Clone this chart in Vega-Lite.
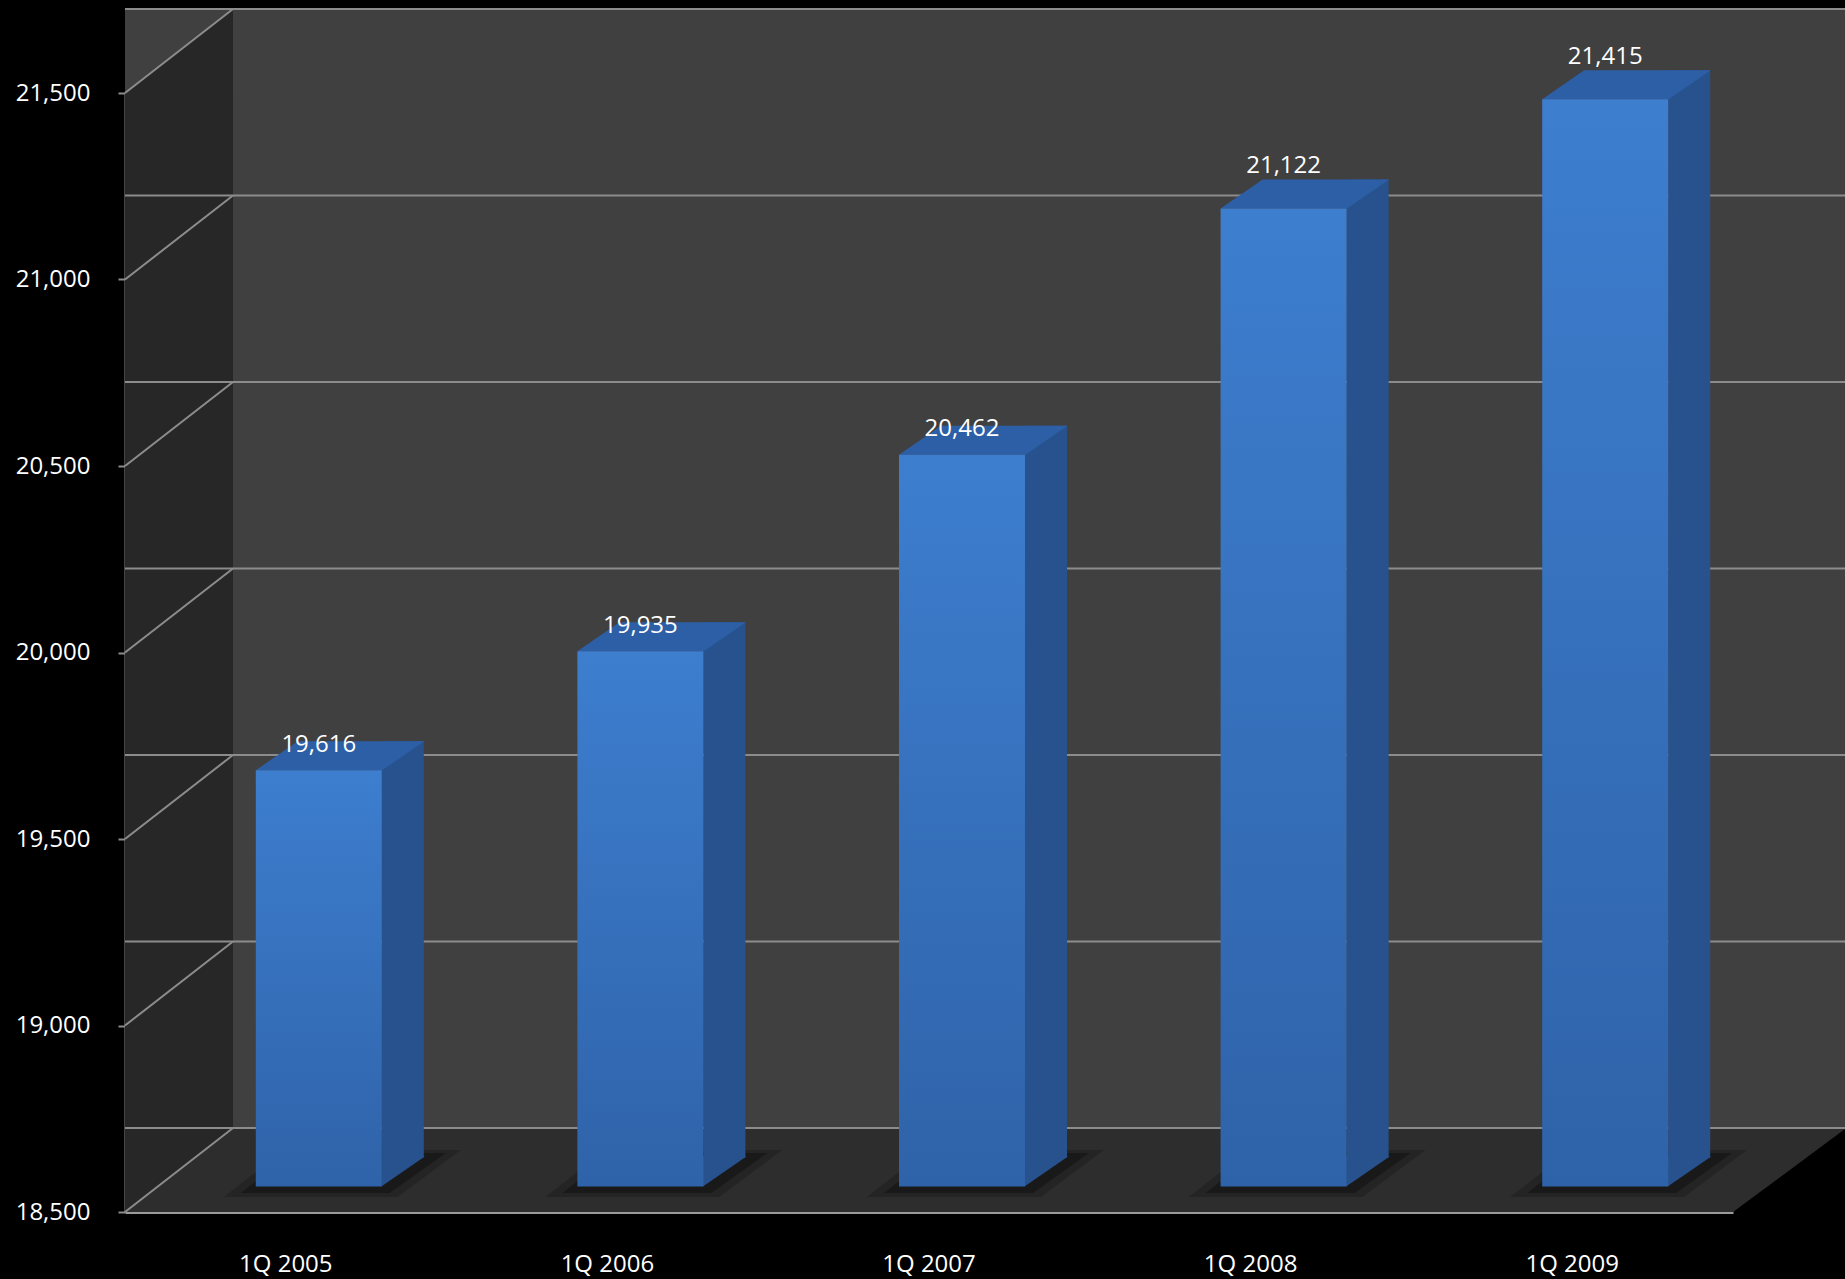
{
  "$schema": "https://vega.github.io/schema/vega-lite/v6.json",
  "width": 1720,
  "height": 1119,
  "autosize": {"type": "none"},
  "padding": {"left": 125, "top": 93, "right": 0, "bottom": 67},
  "background": "#000000",
  "config": {
    "view": {"stroke": null},
    "font": "Open Sans",
    "axisX": {"labelColor": "#ffffff", "labelFontSize": 24, "labelFont": "Open Sans", "ticks": false, "tickSize": 0, "domainColor": "#9a9a9a", "domainWidth": 3, "labelPadding": 59, "labelBaseline": "alphabetic", "labelAngle": 0, "grid": false},
    "axisY": {"labelColor": "#ffffff", "labelFontSize": 24, "labelFont": "Open Sans", "tickColor": "#8c8c8c", "tickSize": 7, "tickWidth": 2, "domainColor": "#8c8c8c", "domainWidth": 2, "labelPadding": 28, "grid": false, "labelExpr": "format(datum.value, ',')"}
  },
  "datasets": {
    "bars": [
      {"quarter": "1Q 2005", "value": 19616},
      {"quarter": "1Q 2006", "value": 19935},
      {"quarter": "1Q 2007", "value": 20462},
      {"quarter": "1Q 2008", "value": 21122},
      {"quarter": "1Q 2009", "value": 21415}
    ],
    "ticks": [
      {"v": 18500}, {"v": 19000}, {"v": 19500}, {"v": 20000}, {"v": 20500}, {"v": 21000}, {"v": 21500}
    ]
  },
  "layer": [
    {
      "data": {"values": [{}]},
      "mark": {"type": "rect", "color": "#404040", "xOffset": 108, "x2Offset": 108, "yOffset": -84, "y2Offset": -84},
      "encoding": {
        "y": {"datum": 18500, "type": "quantitative", "title": null, "scale": {"domain": [18500, 21500], "nice": false, "zero": false}, "axis": {"values": [18500, 19000, 19500, 20000, 20500, 21000, 21500], "format": ","}},
        "y2": {"datum": 21500}
      }
    },
    {
      "data": {"values": [{}]},
      "mark": {"type": "point", "filled": true, "opacity": 1, "size": 4, "color": "#2d2d2d", "shape": "M-160.8,0L1447.2,0L1562,-85L-52.8,-84Z"},
      "encoding": {
        "x": {"datum": "1Q 2005", "type": "nominal", "title": null, "scale": {"range": [0, 1608], "paddingInner": 0, "paddingOuter": 0}},
        "y": {"datum": 18500, "type": "quantitative", "title": null}
      }
    },
    {
      "data": {"values": [{}]},
      "mark": {"type": "point", "filled": true, "opacity": 1, "size": 4, "color": "#272727", "shape": "M-160.8,0L-160.8,-1119L-52.8,-1203L-52.8,-84Z"},
      "encoding": {
        "x": {"datum": "1Q 2005", "type": "nominal", "title": null},
        "y": {"datum": 18500, "type": "quantitative", "title": null}
      }
    },
    {
      "data": {"name": "ticks"},
      "mark": {"type": "rule", "color": "#8c8c8c", "strokeWidth": 2, "xOffset": 108, "x2Offset": 108, "yOffset": -84},
      "encoding": {
        "y": {"field": "v", "type": "quantitative", "title": null}
      }
    },
    {
      "data": {"name": "ticks"},
      "mark": {"type": "point", "filled": false, "opacity": 1, "size": 4, "color": "#8c8c8c", "strokeWidth": 2, "shape": "M-160.8,0L-52.8,-84"},
      "encoding": {
        "x": {"datum": "1Q 2005", "type": "nominal", "title": null},
        "y": {"field": "v", "type": "quantitative", "title": null}
      }
    },
    {
      "data": {"name": "bars"},
      "mark": {"type": "point", "filled": true, "opacity": 0.18, "size": 4, "color": "#000000", "shape": "M-62,-15L112,-15L175,-62L-2,-62Z"},
      "encoding": {
        "x": {"field": "quarter", "type": "nominal", "title": null},
        "y": {"datum": 18500, "type": "quantitative", "title": null}
      }
    },
    {
      "data": {"name": "bars"},
      "mark": {"type": "point", "filled": true, "opacity": 0.3, "size": 4, "color": "#000000", "shape": "M-45,-19L104,-19L160,-59L6,-59Z"},
      "encoding": {
        "x": {"field": "quarter", "type": "nominal", "title": null},
        "y": {"datum": 18500, "type": "quantitative", "title": null}
      }
    },
    {
      "data": {"name": "bars"},
      "mark": {"type": "bar", "color": "#27528e", "width": 42, "xOffset": 117, "yOffset": -54.5, "y2Offset": -54.5},
      "encoding": {
        "x": {"field": "quarter", "type": "nominal", "title": null},
        "y": {"field": "value", "type": "quantitative", "title": null},
        "y2": {"datum": 18500}
      }
    },
    {
      "data": {"name": "bars"},
      "mark": {"type": "point", "filled": true, "opacity": 1, "size": 4, "color": "#27528e", "shape": "M95.5,-55.5L95.5,-25.5L139,-55.5Z"},
      "encoding": {
        "x": {"field": "quarter", "type": "nominal", "title": null},
        "y": {"datum": 18500, "type": "quantitative", "title": null}
      }
    },
    {
      "data": {"name": "bars"},
      "mark": {"type": "point", "filled": true, "opacity": 1, "size": 4, "color": "#2d5fa6", "shape": "M-30,-25.5L96.5,-25.5L138.5,-54.5L12,-54.5Z"},
      "encoding": {
        "x": {"field": "quarter", "type": "nominal", "title": null},
        "y": {"field": "value", "type": "quantitative", "title": null}
      }
    },
    {
      "data": {"name": "bars"},
      "mark": {
        "type": "bar", "width": 126, "xOffset": 33, "yOffset": -25.5, "y2Offset": -25.5,
        "color": {"gradient": "linear", "x1": 0, "y1": 0, "x2": 0, "y2": 1, "stops": [{"offset": 0, "color": "#3d7ecf"}, {"offset": 1, "color": "#2f63a9"}]}
      },
      "encoding": {
        "x": {"field": "quarter", "type": "nominal", "title": null},
        "y": {"field": "value", "type": "quantitative", "title": null},
        "y2": {"datum": 18500}
      }
    },
    {
      "data": {"name": "bars"},
      "transform": [{"filter": "datum.value < 21000"}],
      "mark": {"type": "text", "color": "#ffffff", "fontSize": 24, "font": "Open Sans", "align": "center", "baseline": "alphabetic", "dx": 33, "dy": -44},
      "encoding": {
        "x": {"field": "quarter", "type": "nominal", "title": null},
        "y": {"field": "value", "type": "quantitative", "title": null},
        "text": {"field": "value", "type": "quantitative", "format": ","}
      }
    },
    {
      "data": {"name": "bars"},
      "transform": [{"filter": "datum.value >= 21000"}],
      "mark": {"type": "text", "color": "#ffffff", "fontSize": 24, "font": "Open Sans", "align": "center", "baseline": "alphabetic", "dx": 33, "dy": -61},
      "encoding": {
        "x": {"field": "quarter", "type": "nominal", "title": null},
        "y": {"field": "value", "type": "quantitative", "title": null},
        "text": {"field": "value", "type": "quantitative", "format": ","}
      }
    }
  ]
}
